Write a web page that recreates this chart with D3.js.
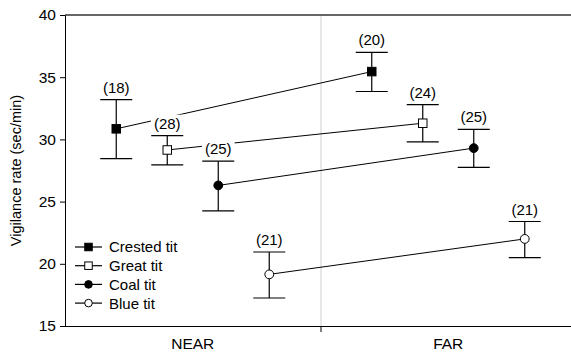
<!DOCTYPE html>
<html>
<head>
<meta charset="utf-8">
<script src="https://cdn.jsdelivr.net/npm/d3@7"></script>
<style>
  html, body { margin: 0; padding: 0; background: #fff; }
  svg { display: block; font-family: "Liberation Sans", Arial, sans-serif; }
</style>
</head>
<body>
<svg id="chart" width="571" height="353"></svg>
<script>
// ---- data ----
const conditions = ["NEAR", "FAR"];
const species = ["Crested tit", "Great tit", "Coal tit", "Blue tit"];
const markerShapes = ["square", "square", "circle", "circle"];
const markerFills = ["#000", "#fff", "#000", "#fff"];
const meanNear = [30.85, 29.15, 26.3, 19.15];
const meanFar = [35.45, 31.3, 29.3, 22.0];
const upperNear = [33.2, 30.3, 28.25, 20.95];
const lowerNear = [28.45, 27.95, 24.25, 17.25];
const upperFar = [37.0, 32.8, 30.8, 23.4];
const lowerFar = [33.85, 29.8, 27.75, 20.5];
const nNear = [18, 28, 25, 21];
const nFar = [20, 24, 25, 21];
const yTicks = [15, 20, 25, 30, 35, 40];
const yTitle = "Vigilance rate (sec/min)";

// ---- layout ----
const svg = d3.select("#chart");
const mLeft = 65, mRight = 576, mTop = 15, mBottom = 326;

const x = d3.scaleBand().domain(conditions).range([mLeft, mRight]).padding(0);
const offset = d3.scalePoint().domain(species).range([-76.5, 76.5]);
const y = d3.scaleLinear().domain([15, 40]).range([mBottom, mTop]);

const means = [meanNear, meanFar];
const uppers = [upperNear, upperFar];
const lowers = [lowerNear, lowerFar];
const ns = [nNear, nFar];

// divider
svg.append("line")
  .attr("x1", x("FAR") + 0.5).attr("x2", x("FAR") + 0.5)
  .attr("y1", mTop).attr("y2", mBottom)
  .attr("stroke", "#d0d0d0").attr("stroke-width", 1);

// top border
svg.append("line")
  .attr("x1", mLeft).attr("x2", 571)
  .attr("y1", mTop).attr("y2", mTop)
  .attr("stroke", "#333").attr("stroke-width", 1.5);

// y axis
const yAxis = svg.append("g")
  .attr("transform", `translate(${mLeft},0)`)
  .call(d3.axisLeft(y).tickValues(yTicks).tickSize(5).tickPadding(4).tickSizeOuter(0));
yAxis.select(".domain").attr("stroke", "#000");
yAxis.selectAll(".tick line").attr("stroke", "#000");
yAxis.selectAll("text").attr("font-size", 15.5).attr("fill", "#000")
  .attr("font-family", "Liberation Sans, Arial, sans-serif");

// x axis
const xAxis = svg.append("g")
  .attr("transform", `translate(0,${mBottom})`)
  .call(d3.axisBottom(x).tickSize(0).tickPadding(12).tickSizeOuter(0));
xAxis.select(".domain").attr("d", `M${mLeft},0.5H571`).attr("stroke", "#000");
xAxis.selectAll("text").attr("font-size", 15.5).attr("fill", "#000")
  .attr("font-family", "Liberation Sans, Arial, sans-serif");
svg.append("line")
  .attr("x1", x("FAR") + 0.5).attr("x2", x("FAR") + 0.5)
  .attr("y1", mBottom).attr("y2", mBottom + 6)
  .attr("stroke", "#000");

// y title
svg.append("text")
  .attr("transform", `translate(21,${(mTop + mBottom) / 2}) rotate(-90)`)
  .attr("text-anchor", "middle")
  .attr("font-size", 14.5)
  .attr("fill", "#000")
  .text(yTitle);

const px = (ci, si) => x(conditions[ci]) + x.bandwidth() / 2 + offset(species[si]);

// connecting lines
species.forEach((s, si) => {
  svg.append("line")
    .attr("x1", px(0, si)).attr("y1", y(means[0][si]))
    .attr("x2", px(1, si)).attr("y2", y(means[1][si]))
    .attr("stroke", "#000").attr("stroke-width", 1);
});

// n labels with white knockout
const labelG = svg.append("g");
[0, 1].forEach(ci => {
  species.forEach((s, si) => {
    const cx = px(ci, si);
    const cy = y(uppers[ci][si]) - 7;
    const t = labelG.append("text")
      .attr("x", cx).attr("y", cy)
      .attr("text-anchor", "middle")
      .attr("font-size", 15)
      .attr("fill", "#000")
      .text(`(${ns[ci][si]})`);
    const bb = t.node().getBBox();
    labelG.insert("rect", "text")
      .attr("x", bb.x - 3).attr("y", bb.y)
      .attr("width", bb.width + 6).attr("height", bb.height)
      .attr("fill", "#fff");
  });
});

// error bars
const capHalf = 16;
[0, 1].forEach(ci => {
  species.forEach((s, si) => {
    const cx = px(ci, si);
    const g = svg.append("g").attr("stroke", "#000").attr("stroke-width", 1.2);
    g.append("line").attr("x1", cx).attr("x2", cx)
      .attr("y1", y(uppers[ci][si])).attr("y2", y(lowers[ci][si]));
    g.append("line").attr("x1", cx - capHalf).attr("x2", cx + capHalf)
      .attr("y1", y(uppers[ci][si])).attr("y2", y(uppers[ci][si]));
    g.append("line").attr("x1", cx - capHalf).attr("x2", cx + capHalf)
      .attr("y1", y(lowers[ci][si])).attr("y2", y(lowers[ci][si]));
  });
});

// markers
function drawMarker(g, cx, cy, si, sq, r) {
  if (markerShapes[si] === "square") {
    g.append("rect")
      .attr("x", cx - sq / 2).attr("y", cy - sq / 2)
      .attr("width", sq).attr("height", sq)
      .attr("fill", markerFills[si]).attr("stroke", "#000").attr("stroke-width", 1);
  } else {
    g.append("circle")
      .attr("cx", cx).attr("cy", cy).attr("r", r)
      .attr("fill", markerFills[si]).attr("stroke", "#000").attr("stroke-width", 1);
  }
}
[0, 1].forEach(ci => {
  species.forEach((s, si) => {
    drawMarker(svg, px(ci, si), y(means[ci][si]), si, 8.5, 4.4);
  });
});

// legend
const legend = svg.append("g");
species.forEach((s, si) => {
  const ly = 247 + si * 18.7;
  legend.append("line")
    .attr("x1", 75).attr("x2", 102)
    .attr("y1", ly).attr("y2", ly)
    .attr("stroke", "#000").attr("stroke-width", 1.2);
  drawMarker(legend, 88.5, ly, si, 7.5, 3.8);
  legend.append("text")
    .attr("x", 109).attr("y", ly)
    .attr("dy", "0.36em")
    .attr("font-size", 15)
    .attr("fill", "#000")
    .text(s);
});
</script>
</body>
</html>
